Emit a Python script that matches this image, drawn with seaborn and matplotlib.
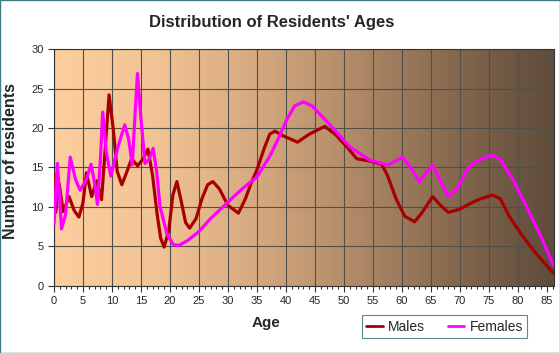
import numpy as np
import pandas as pd
import matplotlib
matplotlib.use("Agg")
import matplotlib.pyplot as plt
from matplotlib.colors import LinearSegmentedColormap
import seaborn as sns

# values
male_age = [0, 0.3, 0.86, 1.6, 2.6, 3.5, 4.3, 5, 5.6, 6.5, 7.4, 8.2, 8.8, 9.5,
            10.2, 10.9, 11.7, 12.6, 13.4, 14.4, 15.3, 16.2, 17, 17.8, 18.4, 19,
            19.8, 20.5, 21.2, 22, 22.7, 23.4, 24.5, 25.5, 26.5, 27.4, 28.5, 30,
            31.8, 33, 34, 35, 36.3, 37.2, 38.1, 39.5, 42, 44, 46.7, 48.5, 50.5,
            52.2, 54.5, 56.5, 57.5, 59, 60.5, 62.2, 63.5, 65.3, 66.5, 68, 70,
            71.7, 73.5, 75.6, 77, 78.5, 80.9, 83, 86.1]
male_val = [14.3, 9.3, 13.0, 9.4, 11.3, 9.5, 8.7, 10.5, 14.3, 11.3, 13.3, 10.9,
            17, 24.2, 20, 14.5, 12.8, 14.5, 16.1, 15.2, 16, 17.3, 14, 9, 6, 4.9,
            7, 11.5, 13.2, 10.5, 8, 7.3, 8.5, 11, 12.8, 13.2, 12.3, 10.2, 9.2,
            11, 13, 14.7, 17.5, 19.2, 19.6, 19, 18.2, 19.2, 20.2, 19.2, 17.6,
            16.1, 15.8, 15.4, 14, 11, 8.8, 8.1, 9.3, 11.3, 10.3, 9.3, 9.7, 10.4,
            11, 11.5, 11, 8.8, 6.2, 4.2, 1.6]

female_age = [0, 0.6, 1.3, 2, 2.8, 3.7, 4.5, 5.5, 6.4, 7, 7.5, 8, 8.4, 9, 9.8,
              11, 12.2, 12.9, 13.5, 14, 14.4, 14.9, 15.7, 16.4, 17.1, 17.7,
              18.3, 19.5, 20.6, 21.5, 23, 24.9, 27, 30, 32.5, 35, 37.2, 38.8,
              40.1, 41.5, 43, 44.5, 47.6, 51, 54.5, 57.6, 60.1, 61.5, 63, 65.3,
              66.5, 68, 69.5, 71.7, 73.5, 75.5, 77, 79.2, 81.5, 84, 86.1]
female_val = [7.8, 15.5, 7.2, 9, 16.3, 13.5, 12.1, 13.3, 15.4, 13, 10.3, 16, 22,
              17, 13.9, 17.5, 20.4, 18.5, 15.3, 22, 26.9, 22, 15.5, 16, 17.4,
              14.5, 10, 6.5, 5.2, 5.1, 5.7, 6.8, 8.5, 10.6, 12.3, 13.8, 16.4,
              18.8, 21, 22.8, 23.3, 22.8, 20.4, 17.6, 15.9, 15.3, 16.3, 15, 13.2,
              15.3, 13.5, 11.3, 12.3, 15.2, 16, 16.6, 16, 13.4, 10, 6.2, 2.6]

x_ticks = list(range(0, 90, 5))
y_ticks = list(range(0, 35, 5))

df = pd.concat([
    pd.DataFrame({"Age": male_age, "Residents": male_val, "Sex": "Males"}),
    pd.DataFrame({"Age": female_age, "Residents": female_val, "Sex": "Females"}),
])

sns.set_style("ticks")
plt.rcParams["font.family"] = ["Liberation Sans", "DejaVu Sans"]

fig = plt.figure(figsize=(5.6, 3.53), dpi=100, facecolor="white")
ax = fig.add_axes([0.0964, 0.1907, 0.8926, 0.6703])

# peach -> brown background gradient
bg = LinearSegmentedColormap.from_list(
    "bg", ["#FDCE9E", "#F2C394", "#D6AA80", "#B08A68", "#86684E", "#5E4C3C"])
ax.imshow(np.linspace(0, 1, 256).reshape(1, -1), cmap=bg, aspect="auto",
          extent=[0, 86.2, 0, 30], zorder=0)

sns.lineplot(data=df, x="Age", y="Residents", hue="Sex", sort=False,
             estimator=None, palette={"Males": "#A80000", "Females": "#FF00FF"},
             linewidth=2.3, ax=ax, zorder=3, legend=False)

ax.set_xlim(0, 86.2)
ax.set_ylim(0, 30)
ax.set_xticks(x_ticks)
ax.set_xticks(range(0, 87), minor=True)
ax.set_yticks(y_ticks)
ax.grid(True, which="major", color="#505048", linewidth=0.8)
for l in ax.get_xgridlines() + ax.get_ygridlines():
    l.set_zorder(1)
ax.tick_params(axis="both", which="major", labelsize=8, length=4,
               direction="out", color="#333333", width=0.8)
ax.tick_params(axis="x", which="minor", length=2.5, color="#333333", width=0.8)
for s in ax.spines.values():
    s.set_visible(True)
    s.set_color("#333333")
    s.set_linewidth(0.8)

ax.set_xlabel("Age", fontsize=11, fontweight="bold", va="center")
ax.set_ylabel("Number of residents", fontsize=11.5, fontweight="bold",
              va="center")
ax.xaxis.set_label_coords(0.424, -0.158)
ax.yaxis.set_label_coords(-0.086, 0.525)
fig.text(0.486, 0.935, "Distribution of Residents' Ages", ha="center",
         va="center", fontsize=12, fontweight="bold")

handles = [plt.Line2D([], [], color="#A80000", lw=2),
           plt.Line2D([], [], color="#FF00FF", lw=2)]
leg = fig.legend(handles, ["Males", "Females"], loc="center",
                 bbox_to_anchor=(0.794, 0.0747), ncol=2, fontsize=10,
                 frameon=True, fancybox=False, handlelength=1.2,
                 handletextpad=0.4, columnspacing=1.6, borderpad=0.3)
leg.get_frame().set_edgecolor("#2F6F6F")
leg.get_frame().set_linewidth(0.8)

fig.patches.append(plt.Rectangle((0, 0), 1, 1, transform=fig.transFigure,
                                 fill=False, edgecolor="#3F7F7F", linewidth=1))

fig.savefig("out.png", dpi=100, facecolor="white")
